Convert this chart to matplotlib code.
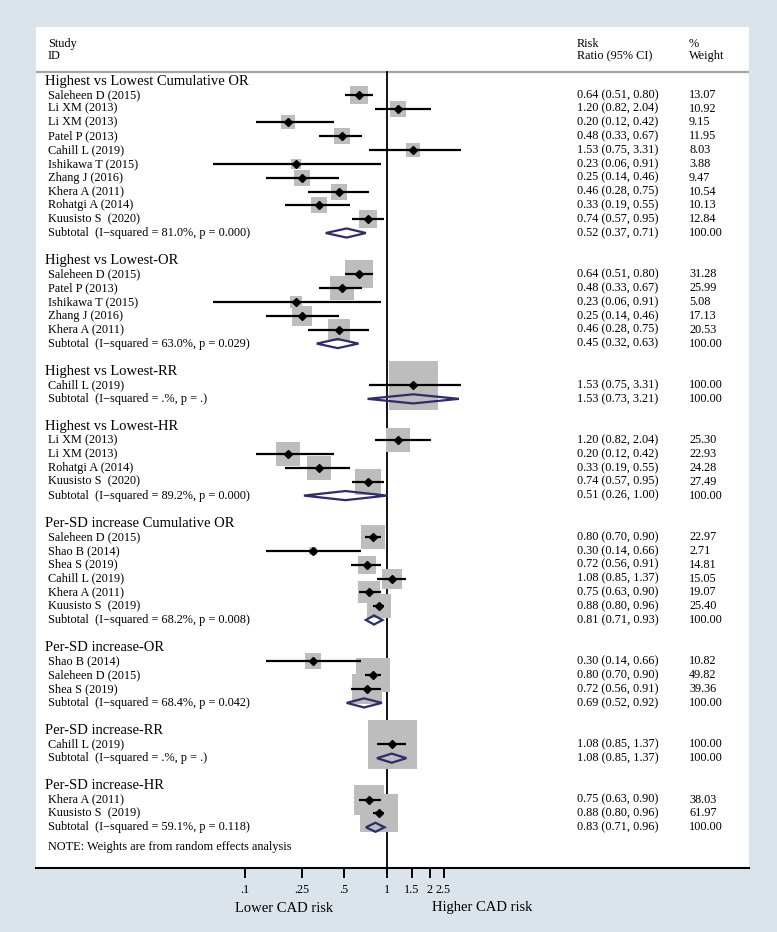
import numpy as np
import matplotlib
matplotlib.use('Agg')
import matplotlib.pyplot as plt
from matplotlib.patches import Polygon
import matplotlib.transforms as mtransforms

plt.rcParams['font.family'] = ['Liberation Serif', 'DejaVu Serif']

# ---------------- data ----------------
group_titles = [
    'Highest vs Lowest Cumulative OR',
    'Highest vs Lowest-OR',
    'Highest vs Lowest-RR',
    'Highest vs Lowest-HR',
    'Per-SD increase Cumulative OR',
    'Per-SD increase-OR',
    'Per-SD increase-RR',
    'Per-SD increase-HR',
]
study_group = [0] * 10 + [1] * 5 + [2] + [3] * 4 + [4] * 6 + [5] * 3 + [6] + [7] * 2
study_labels = [
    'Saleheen D (2015)', 'Li XM (2013)', 'Li XM (2013)', 'Patel P (2013)', 'Cahill L (2019)',
    'Ishikawa T (2015)', 'Zhang J (2016)', 'Khera A (2011)', 'Rohatgi A (2014)', 'Kuusisto S  (2020)',
    'Saleheen D (2015)', 'Patel P (2013)', 'Ishikawa T (2015)', 'Zhang J (2016)', 'Khera A (2011)',
    'Cahill L (2019)',
    'Li XM (2013)', 'Li XM (2013)', 'Rohatgi A (2014)', 'Kuusisto S  (2020)',
    'Saleheen D (2015)', 'Shao B (2014)', 'Shea S (2019)', 'Cahill L (2019)', 'Khera A (2011)', 'Kuusisto S  (2019)',
    'Shao B (2014)', 'Saleheen D (2015)', 'Shea S (2019)',
    'Cahill L (2019)',
    'Khera A (2011)', 'Kuusisto S  (2019)',
]
study_rr = [0.64, 1.20, 0.20, 0.48, 1.53, 0.23, 0.25, 0.46, 0.33, 0.74,
            0.64, 0.48, 0.23, 0.25, 0.46,
            1.53,
            1.20, 0.20, 0.33, 0.74,
            0.80, 0.30, 0.72, 1.08, 0.75, 0.88,
            0.30, 0.80, 0.72,
            1.08,
            0.75, 0.88]
study_lo = [0.51, 0.82, 0.12, 0.33, 0.75, 0.06, 0.14, 0.28, 0.19, 0.57,
            0.51, 0.33, 0.06, 0.14, 0.28,
            0.75,
            0.82, 0.12, 0.19, 0.57,
            0.70, 0.14, 0.56, 0.85, 0.63, 0.80,
            0.14, 0.70, 0.56,
            0.85,
            0.63, 0.80]
study_hi = [0.80, 2.04, 0.42, 0.67, 3.31, 0.91, 0.46, 0.75, 0.55, 0.95,
            0.80, 0.67, 0.91, 0.46, 0.75,
            3.31,
            2.04, 0.42, 0.55, 0.95,
            0.90, 0.66, 0.91, 1.37, 0.90, 0.96,
            0.66, 0.90, 0.91,
            1.37,
            0.90, 0.96]
study_weight = [13.07, 10.92, 9.15, 11.95, 8.03, 3.88, 9.47, 10.54, 10.13, 12.84,
                31.28, 25.99, 5.08, 17.13, 20.53,
                100.00,
                25.30, 22.93, 24.28, 27.49,
                22.97, 2.71, 14.81, 15.05, 19.07, 25.40,
                10.82, 49.82, 39.36,
                100.00,
                38.03, 61.97]
sub_i2 = ['81.0%', '63.0%', '.%', '89.2%', '68.2%', '68.4%', '.%', '59.1%']
sub_p = ['0.000', '0.029', '.', '0.000', '0.008', '0.042', '.', '0.118']
sub_rr = [0.52, 0.45, 1.53, 0.51, 0.81, 0.69, 1.08, 0.83]
sub_lo = [0.37, 0.32, 0.73, 0.26, 0.71, 0.52, 0.85, 0.71]
sub_hi = [0.71, 0.63, 3.21, 1.00, 0.93, 0.92, 1.37, 0.96]
tick_values = [0.1, 0.25, 0.5, 1, 1.5, 2, 2.5]
tick_labels = ['.1', '.25', '.5', '1', '1.5', '2', '2.5']

# ---------------- layout ----------------
W, H = 777, 932
fig = plt.figure(figsize=(W / 100, H / 100), dpi=100, facecolor='#dce4eb')
px_left, px_right, px_top, px_bottom = 36, 749, 27, 868
ax = fig.add_axes([px_left / W, 1 - px_bottom / H,
                   (px_right - px_left) / W, (px_bottom - px_top) / H])
ax.set_facecolor('white')
ax.set_xscale('log')
x_at_1, px_per_decade = 387, 142
ax.set_xlim(10 ** ((px_left - x_at_1) / px_per_decade),
            10 ** ((px_right - x_at_1) / px_per_decade))
row0, row_h = 81, 13.82
y_bottom = (px_bottom - row0) / row_h
ax.set_ylim(y_bottom, (px_top - row0) / row_h)

def fx(px):
    return (px - px_left) / (px_right - px_left)

trans = mtransforms.blended_transform_factory(ax.transAxes, ax.transData)

FS = 8.8
FS_HEAD = 10.5
box_color = '#bdbdbd'
diamond_color = '#2d2c6c'

x_label, x_head, x_rr, x_w = fx(48), fx(45), fx(577), fx(689)

# column headers
ax.text(x_label, -2.65, 'Study', transform=trans, fontsize=FS, va='center', ha='left')
ax.text(x_label, -1.8, 'ID', transform=trans, fontsize=FS, va='center', ha='left')
ax.text(x_rr, -2.65, 'Risk', transform=trans, fontsize=FS, va='center', ha='left')
ax.text(x_rr, -1.8, 'Ratio (95% CI)', transform=trans, fontsize=FS, va='center', ha='left')
ax.text(x_w, -2.65, '%', transform=trans, fontsize=FS, va='center', ha='left')
ax.text(x_w, -1.8, 'Weight', transform=trans, fontsize=FS, va='center', ha='left')
hdr_line = -0.65
ax.axhline(hdr_line, color='#a5a5a5', lw=1.6, zorder=1)

# null line
ax.plot([1, 1], [hdr_line, y_bottom], color='black', lw=1.3, zorder=1, clip_on=False)

study_group = np.array(study_group)
r = 0
for g, title in enumerate(group_titles):
    ax.text(x_head, r, title, transform=trans, fontsize=FS_HEAD, va='center', ha='left')
    r += 1
    idx = np.where(study_group == g)[0]
    for i in idx:
        side_pt = 49 * np.sqrt(study_weight[i] / 100) * 0.72
        ax.scatter([study_rr[i]], [r], s=side_pt ** 2, marker='s', color=box_color,
                   linewidths=0, zorder=2)
        ax.plot([study_lo[i], study_hi[i]], [r, r], color='black', lw=1.6, zorder=3,
                solid_capstyle='butt')
        ax.plot([study_rr[i]], [r], marker='D', color='black', markersize=4.3, zorder=4)
        ax.text(x_label, r, study_labels[i], transform=trans, fontsize=FS, va='center')
        ax.text(x_rr, r, f'{study_rr[i]:.2f} ({study_lo[i]:.2f}, {study_hi[i]:.2f})',
                transform=trans, fontsize=FS, va='center')
        ax.text(x_w, r, f'{study_weight[i]:.2f}', transform=trans, fontsize=FS, va='center')
        r += 1
    h = 0.33
    poly = Polygon([(sub_lo[g], r), (sub_rr[g], r - h), (sub_hi[g], r), (sub_rr[g], r + h)],
                   closed=True, fill=False, edgecolor=diamond_color, lw=1.6, zorder=5)
    ax.add_patch(poly)
    ax.text(x_label, r, f'Subtotal  (I\u2212squared = {sub_i2[g]}, p = {sub_p[g]})',
            transform=trans, fontsize=FS, va='center')
    ax.text(x_rr, r, f'{sub_rr[g]:.2f} ({sub_lo[g]:.2f}, {sub_hi[g]:.2f})',
            transform=trans, fontsize=FS, va='center')
    ax.text(x_w, r, '100.00', transform=trans, fontsize=FS, va='center')
    r += 2

ax.text(x_label, r - 0.55, 'NOTE: Weights are from random effects analysis',
        transform=trans, fontsize=FS, va='center')

# axes styling
for s in ['top', 'left', 'right']:
    ax.spines[s].set_visible(False)
ax.spines['bottom'].set_linewidth(1.5)
ax.set_yticks([])
ax.set_xticks(tick_values)
ax.set_xticklabels(tick_labels)
ax.xaxis.set_minor_locator(matplotlib.ticker.NullLocator())
ax.tick_params(axis='x', direction='out', length=7.5, width=1.4, pad=4, labelsize=FS)

fig.text(284 / W, 1 - 908 / H, 'Lower CAD risk', fontsize=FS_HEAD, ha='center', va='center')
fig.text(482 / W, 1 - 908 / H, 'Higher CAD risk', fontsize=FS_HEAD, ha='center', va='center')

fig.savefig('out.png', dpi=100, facecolor=fig.get_facecolor())
